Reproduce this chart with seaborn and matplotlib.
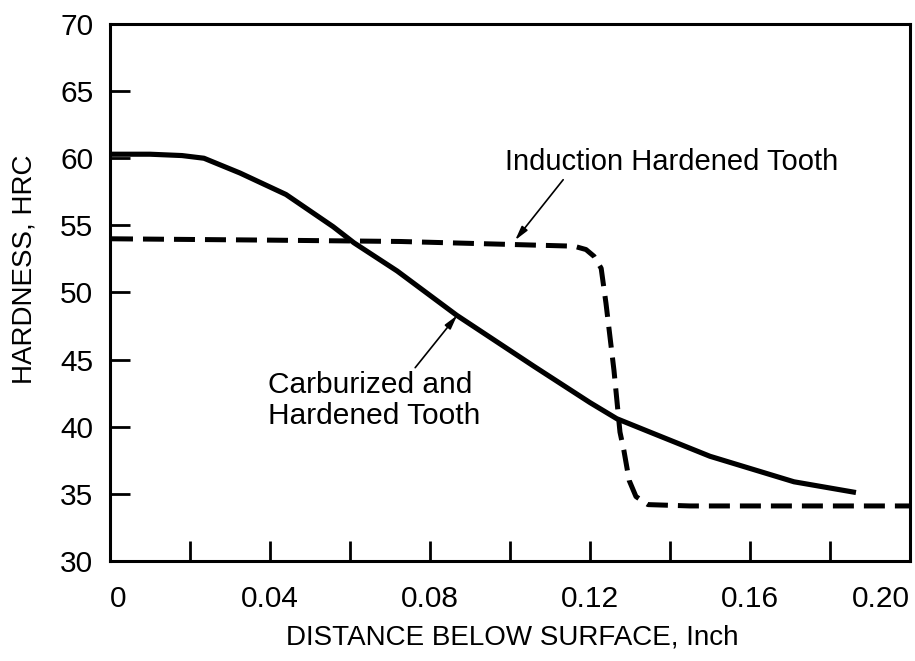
import matplotlib
matplotlib.use("Agg")
import matplotlib.pyplot as plt
import seaborn as sns
import pandas as pd

# Carburized and hardened tooth: hardness profile (solid)
carb_depth = [0.0005, 0.010, 0.018, 0.0235, 0.0325, 0.044, 0.0558, 0.061,
              0.0718, 0.0867, 0.106, 0.120, 0.1267, 0.135, 0.150, 0.171, 0.1865]
carb_hrc = [60.3, 60.3, 60.2, 60.0, 58.9, 57.3, 54.9, 53.7,
            51.6, 48.3, 44.5, 41.8, 40.6, 39.6, 37.8, 35.9, 35.1]

# Induction hardened tooth: hardness profile (dashed)
ind_depth = [0.0005, 0.040, 0.0725, 0.0975, 0.1160, 0.1190, 0.1210, 0.1228,
             0.1240, 0.1260, 0.1275, 0.1285, 0.1298, 0.1315, 0.1345, 0.145, 0.200]
ind_hrc = [54.0, 53.9, 53.8, 53.6, 53.45, 53.2, 52.7, 51.8,
           49.2, 44.2, 39.6, 38.2, 36.0, 34.8, 34.2, 34.1, 34.1]

x_ticks = [0.00, 0.02, 0.04, 0.06, 0.08, 0.10, 0.12, 0.14, 0.16, 0.18, 0.20]
x_labels = ["0", "", "0.04", "", "0.08", "", "0.12", "", "0.16", "", "0.20"]
y_ticks = [30, 35, 40, 45, 50, 55, 60, 65, 70]

sns.set_theme(style="white")
plt.rcParams["font.family"] = ["Liberation Sans", "DejaVu Sans"]

fig = plt.figure(figsize=(9.15, 6.61), dpi=100)
ax = fig.add_axes([0.1202, 0.1513, 0.8743, 0.8124])

carb = pd.DataFrame({"depth": carb_depth, "hrc": carb_hrc})
ind = pd.DataFrame({"depth": ind_depth, "hrc": ind_hrc})

sns.lineplot(data=carb, x="depth", y="hrc", ax=ax, color="black",
             linewidth=3.7, solid_capstyle="butt", estimator=None)
sns.lineplot(data=ind, x="depth", y="hrc", ax=ax, color="black",
             linewidth=3.6, linestyle=(0, (4.2, 2.0)), estimator=None,
             dash_capstyle="butt")

ax.set_xlim(0, 0.20)
ax.set_ylim(30, 70)
ax.set_xticks(x_ticks)
ax.set_xticklabels(x_labels)
ax.set_yticks(y_ticks)
ax.set_yticklabels([str(v) for v in y_ticks])

for s in ax.spines.values():
    s.set_linewidth(2.2)
    s.set_color("black")

ax.tick_params(axis="both", which="major", direction="in", length=14.5,
               width=2.0, color="black", labelsize=21.5, labelcolor="black")
ax.tick_params(axis="y", pad=12)
ax.tick_params(axis="x", pad=17)
ax.tick_params(top=False, right=False, left=True, bottom=True)

xl = ax.get_xticklabels()
xl[0].set_horizontalalignment("left")
xl[-1].set_horizontalalignment("right")

ax.set_xlabel("DISTANCE BELOW SURFACE, Inch", fontsize=20, color="black")
ax.set_ylabel("HARDNESS, HRC", fontsize=20, color="black")
ax.xaxis.set_label_coords(0.5025, -0.118)
ax.yaxis.set_label_coords(-0.090, 0.544)

arrow = dict(arrowstyle="-|>,head_length=0.7,head_width=0.18",
             color="black", lw=1.2, shrinkA=0, shrinkB=0)

# Callout for the induction-hardened curve
ax.annotate("", xy=(0.1013, 53.9), xytext=(0.1133, 58.4), arrowprops=arrow)
ax.text(0.0988, 59.7, "Induction Hardened Tooth", fontsize=21,
        color="black", ha="left", va="center")

# Callout for the carburized curve
ax.annotate("", xy=(0.0868, 48.3), xytext=(0.0763, 44.4), arrowprops=arrow)
ax.text(0.0395, 41.95, "Carburized and\nHardened Tooth", fontsize=21.5,
        color="black", ha="left", va="center", linespacing=1.15)

fig.savefig("out.png", dpi=100, facecolor="white")
